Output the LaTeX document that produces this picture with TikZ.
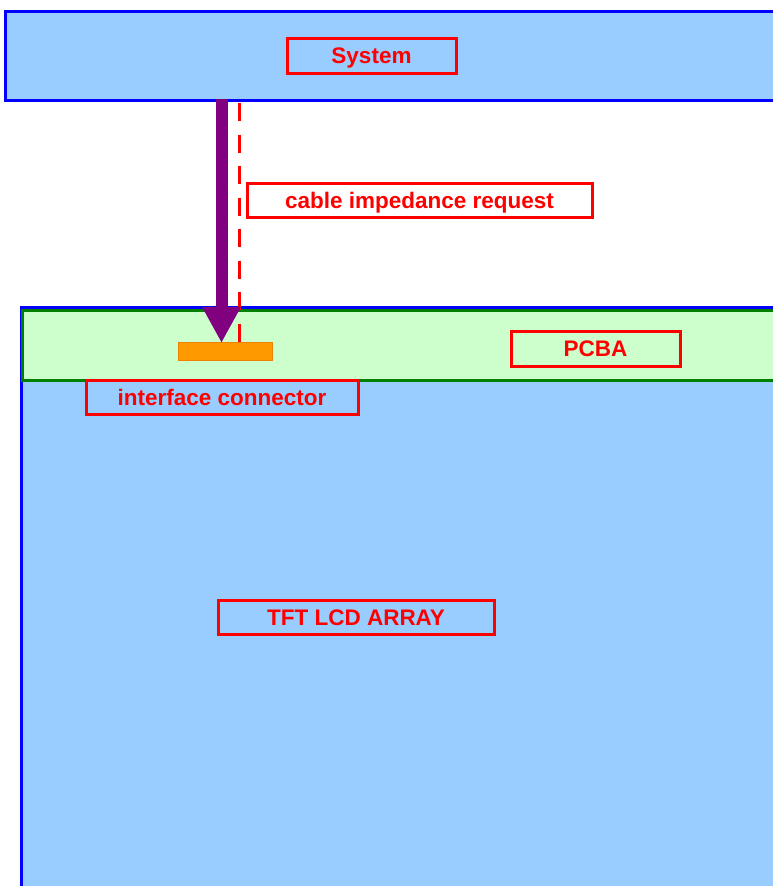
\documentclass[tikz,border=0pt]{standalone}
\usepackage{fontspec}
\setmainfont{Liberation Sans}
\usetikzlibrary{arrows.meta}
\definecolor{skyblue}{HTML}{99CCFF}
\definecolor{pcbgreen}{HTML}{CCFFCC}
\definecolor{darkgreen}{HTML}{008000}
\definecolor{purp}{HTML}{800080}
\definecolor{orng}{HTML}{FF9900}
\definecolor{orngdark}{HTML}{F08000}
\tikzset{
  block/.style={draw=blue, line width=3pt, fill=skyblue, inner sep=0pt, anchor=north west},
  lbl/.style={draw=red, line width=3pt, text=red, inner sep=0pt,
    text height=16pt, text depth=0pt,
    font=\fontsize{22.5}{24}\selectfont\bfseries},
}
\begin{document}
\begin{tikzpicture}[x=1pt,y=-1pt]
\useasboundingbox (0,0) rectangle (773,886);
\clip (0,0) rectangle (773,886);
% blocks
\node[block, minimum width=800pt, minimum height=89pt] (sys) at (4,10) {};
\node[block, minimum width=800pt, minimum height=620pt] (tft) at (20,306) {};
\node[draw=darkgreen, line width=3pt, fill=pcbgreen, inner sep=0pt, anchor=north west,
      minimum width=800pt, minimum height=70pt] (pcba) at (21,309) {};
\node[draw=orngdark, line width=1pt, fill=orng, inner sep=0pt,
      minimum width=94pt, minimum height=18pt] (conn) at (225,351.5) {};
% labels
\node[lbl, minimum width=169pt, minimum height=35pt] (syslbl) at (371.5,55.5) {System};
\node[lbl, minimum width=345pt, minimum height=34pt] (cablelbl) at (419.5,200) {cable impedance request};
\node[lbl, minimum width=169pt, minimum height=35pt] (pcbalbl) at (595.5,348.5) {PCBA};
\node[lbl, minimum width=272pt, minimum height=34pt] (connlbl) at (222,397) {interface connector};
\node[lbl, minimum width=276pt, minimum height=34pt] (tftlbl) at (356,617) {TFT LCD ARRAY};
% connectors
\coordinate (atop) at (221.5,99);
\coordinate (atip) at (221.5,343);
\coordinate (dtop) at (239.5,103);
\coordinate (dbot) at (239.5,342);
\draw[red, line width=3.5pt, dash pattern=on 18pt off 13.5pt] (dtop) -- (dbot);
\draw[purp, line width=12pt, -{Triangle[length=36pt,width=36pt]}] (atop) -- (atip);
\end{tikzpicture}
\end{document}
